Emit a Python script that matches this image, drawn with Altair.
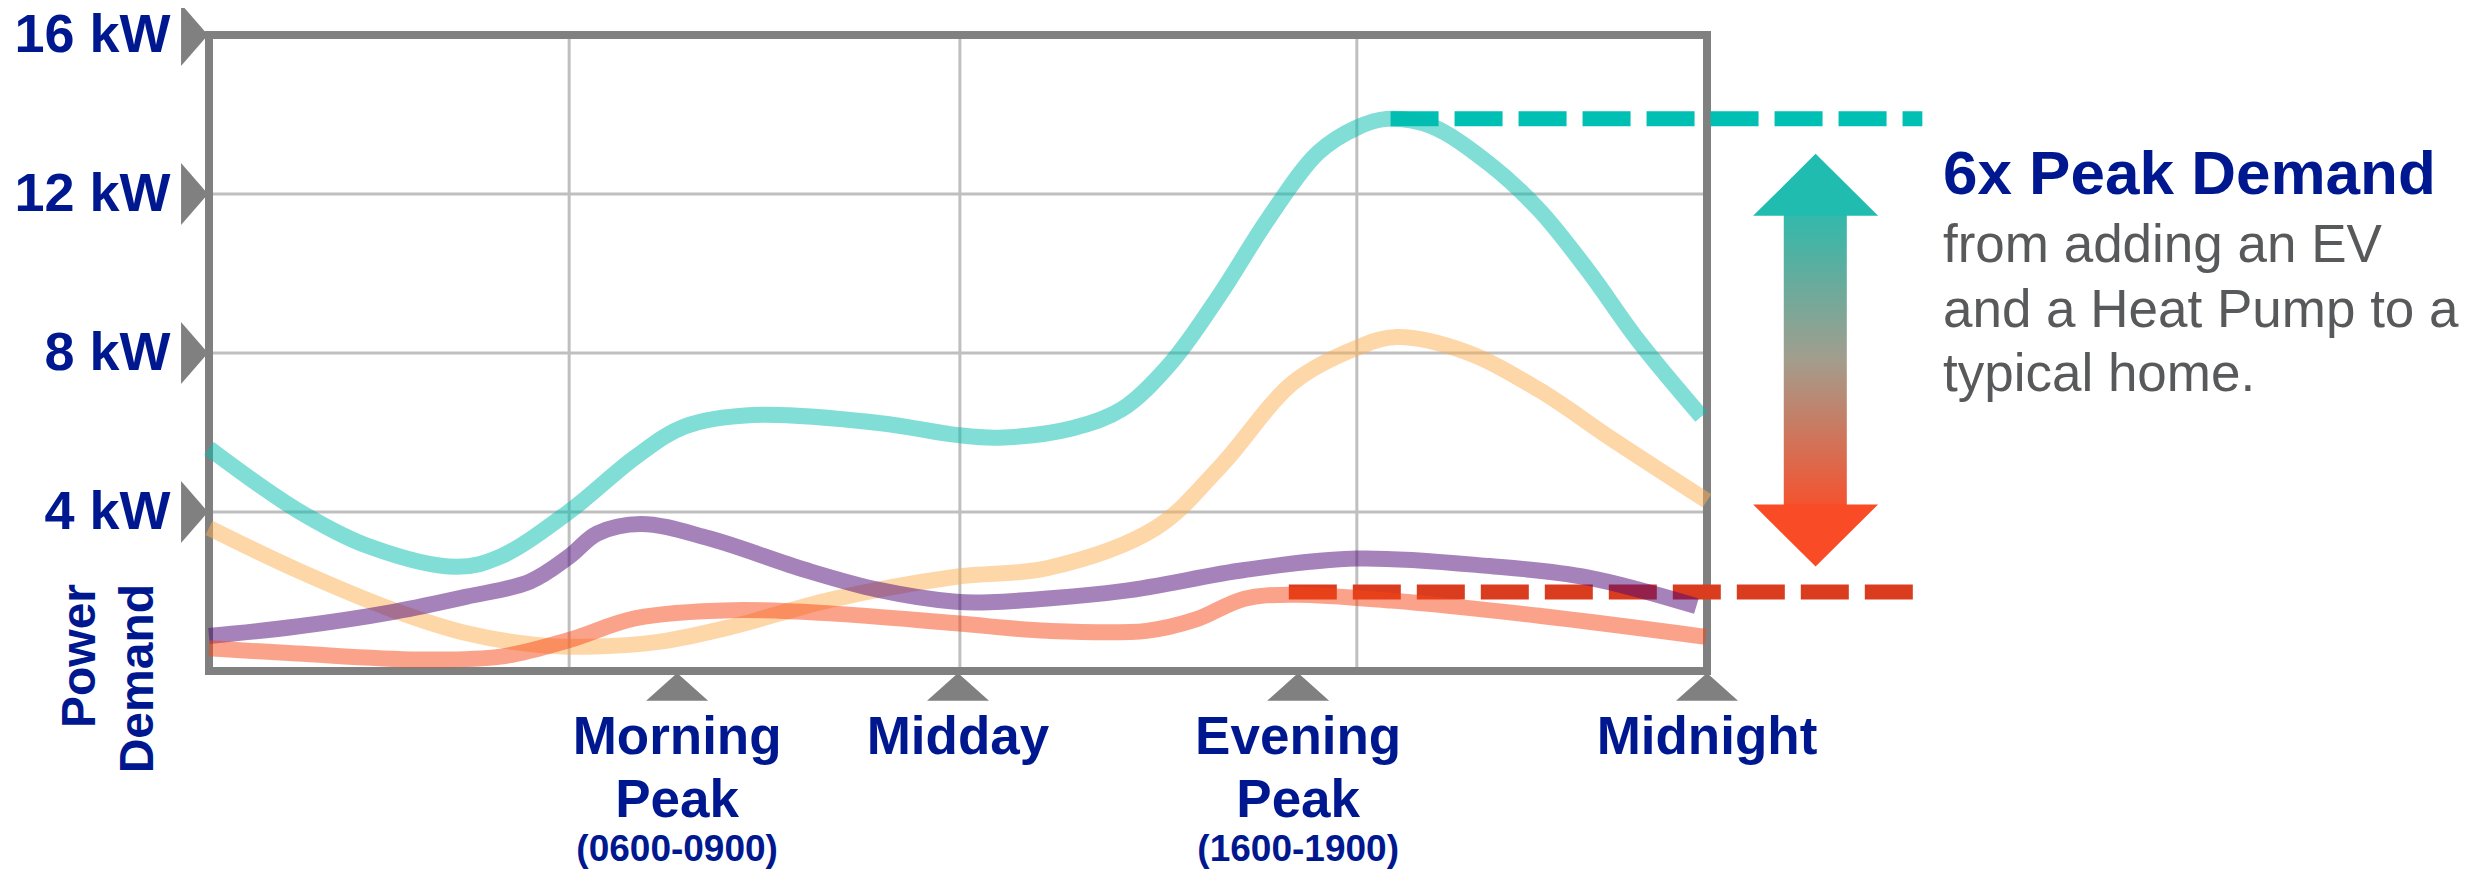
import altair as alt
import pandas as pd

# ---------------- data ----------------
teal_h = [0, 1.41, 2.57, 3.97, 4.67, 5.77, 6.84, 7.62, 8.71, 10.73, 11.97, 12.66, 13.84, 14.63,
          15.41, 16.2, 16.98, 17.77, 18.39, 18.87, 19.58, 20.52, 21.31, 22.1, 22.89, 23.91]
teal_kw = [5.6, 4.05, 3.13, 2.62, 2.88, 4.01, 5.39, 6.15, 6.44, 6.24, 5.94, 5.87, 6.11, 6.59,
           7.75, 9.48, 11.4, 13.04, 13.67, 13.89, 13.71, 12.75, 11.6, 10.06, 8.33, 6.4]

peach_h = [0, 1.41, 2.96, 4.13, 5.29, 6.07, 7.23, 8.39, 9.95, 11.97, 13.44, 15.17, 16.2, 17.38,
           18.39, 19.03, 20.13, 21.31, 22.49, 24.0]
peach_kw = [3.6, 2.54, 1.53, 0.95, 0.65, 0.61, 0.74, 1.12, 1.79, 2.37, 2.59, 3.6, 5.14, 7.27,
            8.13, 8.4, 8.03, 7.07, 5.82, 4.28]

purple_h = [0, 1.41, 2.96, 4.13, 5.14, 5.77, 6.22, 6.92, 8.01, 9.56, 10.73, 11.97, 12.5, 14.63,
            16.59, 18.39, 20.52, 22.1, 23.83]
purple_kw = [0.88, 1.12, 1.49, 1.87, 2.25, 2.88, 3.46, 3.7, 3.34, 2.54, 2.04, 1.74, 1.73, 2.01,
             2.54, 2.83, 2.64, 2.35, 1.63]

salmon_h = [0, 1.41, 3.35, 4.67, 5.77, 6.84, 8.39, 9.95, 11.97, 13.44, 15.02, 15.8, 16.59, 17.38,
            18.95, 21.31, 23.98]
salmon_kw = [0.57, 0.44, 0.29, 0.36, 0.78, 1.33, 1.53, 1.45, 1.2, 1.01, 1.01, 1.29, 1.82, 1.92,
             1.77, 1.39, 0.86]

series = [
    ("Home + EV + Heat Pump", teal_h, teal_kw, "#01bdaf"),
    ("Home + EV", peach_h, peach_kw, "#fdaf53"),
    ("Home + Heat Pump", purple_h, purple_kw, "#4d0577"),
    ("Typical Home", salmon_h, salmon_kw, "#f74515"),
]

y_ticks = [4, 8, 12, 16]
grid_kw = [4, 8, 12]
grid_h = [5.77, 12.03, 18.39]

x_tick_h = [7.5, 12.0, 17.45, 24.0]
x_label_1 = ["Morning", "Midday", "Evening", "Midnight"]
x_label_2 = ["Peak", "", "Peak", ""]
x_label_3 = ["(0600-0900)", "", "(1600-1900)", ""]

peak_kw = 13.89   # new peak demand
base_kw = 1.99    # typical home peak demand

headline = "6x Peak Demand"
sub_lines = ["from adding an EV", "and a Heat Pump to a", "typical home."]

# ---------------- styling ----------------
FONT = "Liberation Sans, Arial, Helvetica, sans-serif"
NAVY = "#00188F"
GRAY = "#808080"

xs = alt.Scale(domain=[0, 24], nice=False, zero=False)
ys = alt.Scale(domain=[0, 16], nice=False, zero=False)
yaxis = alt.Axis(values=y_ticks, labelExpr="datum.value + ' kW'", ticks=False, tickSize=0,
                 domain=False, grid=False, labelPadding=39, labelFont=FONT, labelFontSize=54,
                 labelFontWeight="bold", labelColor=NAVY, title=None, labelBaseline="middle")


def X(f="h"):
    return alt.X(f"{f}:Q", scale=xs, axis=None)


def Y(f="kw"):
    return alt.Y(f"{f}:Q", scale=ys, axis=yaxis)


layers = []

# grid lines
layers.append(alt.Chart(pd.DataFrame({"h": grid_h})).mark_rule(color="#bfbfbf", strokeWidth=3)
              .encode(x=X()))
layers.append(alt.Chart(pd.DataFrame({"kw": grid_kw})).mark_rule(color="#bfbfbf", strokeWidth=3)
              .encode(y=Y()))

# frame
frame = pd.DataFrame({"h": [0], "h2": [24], "kw": [0], "kw2": [16]})
layers.append(alt.Chart(frame).mark_rect(fillOpacity=0, stroke=GRAY, strokeWidth=8)
              .encode(x=X(), x2="h2:Q", y=Y(), y2="kw2:Q"))

# dashed reference lines
dash_base = pd.DataFrame({"h": [17.3, 27.3], "kw": [base_kw, base_kw]})
dash_peak = pd.DataFrame({"h": [18.93, 27.45], "kw": [peak_kw, peak_kw]})
layers.append(alt.Chart(dash_base).mark_line(color="#d93c1e", strokeWidth=15, strokeDash=[48, 16])
              .encode(x=X(), y=Y()))
layers.append(alt.Chart(dash_peak).mark_line(color="#00bfb3", strokeWidth=15, strokeDash=[48, 16])
              .encode(x=X(), y=Y()))

# demand curves
for name, hh, kk, col in series:
    df = pd.DataFrame({"h": hh, "kw": kk, "series": name})
    layers.append(alt.Chart(df).mark_line(color=col, strokeWidth=16, opacity=0.5,
                                          interpolate="catmull-rom")
                  .encode(x=X(), y=Y(), order="h:Q"))

# double arrow
grad = alt.Gradient(gradient="linear",
                    stops=[alt.GradientStop(color="#31b9ab", offset=0),
                           alt.GradientStop(color="#a39d8d", offset=0.5),
                           alt.GradientStop(color="#f5522f", offset=1)],
                    x1=0, x2=0, y1=0, y2=1)
shaft = pd.DataFrame({"h": [25.23], "h2": [26.24], "kw": [11.5], "kw2": [4.15]})
layers.append(alt.Chart(shaft).mark_rect(fill=grad)
              .encode(x=X(), x2="h2:Q", y=Y(), y2="kw2:Q"))
head_up = pd.DataFrame({"h": [25.74], "kw": [12.23]})
head_dn = pd.DataFrame({"h": [25.74], "kw": [3.41]})
layers.append(alt.Chart(head_up).mark_point(shape="M-1,0.496L0,-0.496L1,0.496Z", filled=True,
                                            size=125 ** 2, color="#20bcaf", opacity=1)
              .encode(x=X(), y=Y()))
layers.append(alt.Chart(head_dn).mark_point(shape="M-1,-0.496L0,0.496L1,-0.496Z", filled=True,
                                            size=125 ** 2, color="#f84b26", opacity=1)
              .encode(x=X(), y=Y()))

# axis triangle markers
ytri = pd.DataFrame({"h": [-0.232] * len(y_ticks), "kw": y_ticks})
layers.append(alt.Chart(ytri).mark_point(shape="M-0.435,-1L0.435,0L-0.435,1Z", filled=True,
                                         size=62 ** 2, color=GRAY, opacity=1)
              .encode(x=X(), y=Y()))
xtri = pd.DataFrame({"h": x_tick_h, "kw": [-0.40] * len(x_tick_h)})
layers.append(alt.Chart(xtri).mark_point(shape="M-1,0.45L0,-0.45L1,0.45Z", filled=True,
                                         size=62 ** 2, color=GRAY, opacity=1)
              .encode(x=X(), y=Y()))

# x labels
lab1 = pd.DataFrame({"h": x_tick_h, "kw": [-2.09] * 4, "t": x_label_1})
lab2 = pd.DataFrame({"h": x_tick_h, "kw": [-3.67] * 4, "t": x_label_2})
lab3 = pd.DataFrame({"h": x_tick_h, "kw": [-4.78] * 4, "t": x_label_3})
for df, fs in [(lab1, 53), (lab2, 53), (lab3, 37)]:
    layers.append(alt.Chart(df).mark_text(font=FONT, fontSize=fs, fontWeight="bold", color=NAVY,
                                          align="center", baseline="alphabetic")
                  .encode(x=X(), y=Y(), text="t:N"))

# y title (rotated)
ytitle = pd.DataFrame({"h": [-1.83, -0.90], "kw": [2.19, 2.19], "t": ["Power", "Demand"]})
layers.append(alt.Chart(ytitle).mark_text(font=FONT, fontSize=48, fontWeight="bold", color=NAVY,
                                          angle=270, align="right", baseline="alphabetic")
              .encode(x=X(), y=Y(), text="t:N"))

# annotation text
head_df = pd.DataFrame({"h": [27.78], "kw": [12.0], "t": [headline]})
layers.append(alt.Chart(head_df).mark_text(font=FONT, fontSize=62, fontWeight="bold", color=NAVY,
                                           align="left", baseline="alphabetic")
              .encode(x=X(), y=Y(), text="t:N"))
sub_df = pd.DataFrame({"h": [27.78] * 3, "kw": [10.29, 8.65, 7.04], "t": sub_lines})
layers.append(alt.Chart(sub_df).mark_text(font=FONT, fontSize=53, color="#58595b",
                                          align="left", baseline="alphabetic")
              .encode(x=X(), y=Y(), text="t:N"))

chart = (alt.layer(*layers)
         .properties(width=1498, height=636,
                     autosize=alt.AutoSizeParams(type="none"),
                     padding={"left": 201, "top": 27, "right": 755, "bottom": 200})
         .configure_view(strokeWidth=0)
         .configure(background="white"))

chart.save("out.html", embed_options={"renderer": "svg", "actions": False})
